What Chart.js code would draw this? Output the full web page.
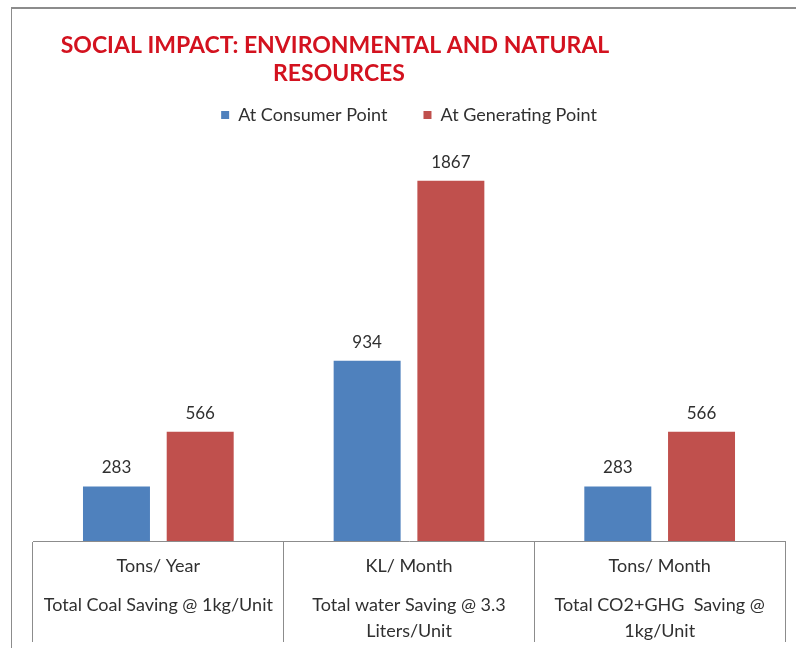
<!DOCTYPE html>
<html>
<head>
<meta charset="utf-8">
<title>Social impact</title>
<script src="https://cdn.jsdelivr.net/npm/chart.js@4.4.0/dist/chart.umd.min.js"></script>
<style>
  html, body { margin: 0; padding: 0; background: #fff; overflow: hidden; }
  #wrap { position: relative; width: 796px; height: 648px; }
  #frame {
    position: absolute; left: 11px; top: 7px; width: 900px; height: 800px;
    border-top: 2px solid #8c8c8c; border-left: 1px solid #8c8c8c;
  }
  canvas { position: absolute; left: 0; top: 0; }
</style>
</head>
<body>
<div id="wrap">
  <div id="frame"></div>
  <canvas id="myImpactChart" width="796" height="648"></canvas>
</div>
<script>
const titleLines = ["SOCIAL IMPACT: ENVIRONMENTAL AND NATURAL", "RESOURCES"];
const unitLabels = ["Tons/ Year", "KL/ Month", "Tons/ Month"];
const savingLabels = [
  ["Total Coal Saving @ 1kg/Unit"],
  ["Total water Saving @ 3.3", "Liters/Unit"],
  ["Total CO2+GHG  Saving @", "1kg/Unit"],
];
const consumerPoint = [283, 934, 283];
const generatingPoint = [566, 1867, 566];

const LINE_GRAY = "#8c8c8c";
const TEXT_GRAY = "#303030";
const TABLE_HEIGHT = 101;

// unit on top, description below; blank rows give the wider first gap
const axisLabels = unitLabels.map((u, i) => [u, "", "", ...savingLabels[i].flatMap((s, k) => (k ? ["", s] : [s]))]);

// value printed above each bar
const barValues = {
  id: "barValues",
  afterDatasetsDraw(chart) {
    const ctx = chart.ctx;
    ctx.save();
    ctx.font = "17px Lato";
    ctx.fillStyle = TEXT_GRAY;
    ctx.textAlign = "center";
    ctx.textBaseline = "alphabetic";
    chart.data.datasets.forEach((ds, i) => {
      chart.getDatasetMeta(i).data.forEach((bar, j) => {
        ctx.fillText(ds.data[j], bar.x, bar.y - 13);
      });
    });
    ctx.restore();
  },
};

// red two-line heading, sits left of centre
const redTitle = {
  id: "redTitle",
  afterDraw(chart) {
    const ctx = chart.ctx;
    ctx.save();
    ctx.font = "bold 23px Lato";
    ctx.fillStyle = "#d3121f";
    ctx.textAlign = "center";
    ctx.textBaseline = "alphabetic";
    ctx.fillText(titleLines[0], 335, 53);
    ctx.fillText(titleLines[1], 339, 81);
    ctx.restore();
  },
};

// extra room between legend and bars
const legendGap = {
  id: "legendGap",
  beforeInit(chart) {
    const fit = chart.legend.fit;
    chart.legend.fit = function () {
      fit.bind(chart.legend)();
      this.height += 21;
    };
  },
};

const ctx = document.getElementById("myImpactChart").getContext("2d");
const myImpactChart = new Chart(ctx, {
  type: "bar",
  data: {
    labels: axisLabels,
    datasets: [
      {
        label: "At Consumer Point",
        data: consumerPoint,
        backgroundColor: "#4f81bd",
        categoryPercentage: 0.668,
        barPercentage: 0.8,
      },
      {
        label: "At Generating Point",
        data: generatingPoint,
        backgroundColor: "#c0504d",
        categoryPercentage: 0.668,
        barPercentage: 0.8,
      },
    ],
  },
  options: {
    responsive: false,
    animation: false,
    layout: {
      padding: { left: 33, right: 11, top: 70, bottom: 6 },
    },
    plugins: {
      legend: {
        display: true,
        labels: {
          color: TEXT_GRAY,
          font: { family: "Lato", size: 18 },
          boxWidth: 8,
          boxHeight: 8,
          padding: 36,
        },
      },
      tooltip: { enabled: false },
    },
    scales: {
      x: {
        type: "category",
        offset: true,
        // long tick marks form the table cells under the bars
        grid: {
          offset: true,
          drawOnChartArea: false,
          tickLength: TABLE_HEIGHT,
          color: LINE_GRAY,
        },
        border: { color: LINE_GRAY },
        ticks: {
          color: TEXT_GRAY,
          font: { family: "Lato", size: 18, lineHeight: "13px" },
          padding: -82,
          maxRotation: 0,
          autoSkip: false,
        },
        afterFit(scale) {
          scale.height = TABLE_HEIGHT;
        },
      },
      y: {
        display: false,
        min: 0,
        max: 2000,
      },
    },
  },
  plugins: [barValues, redTitle, legendGap],
});
</script>
</body>
</html>
